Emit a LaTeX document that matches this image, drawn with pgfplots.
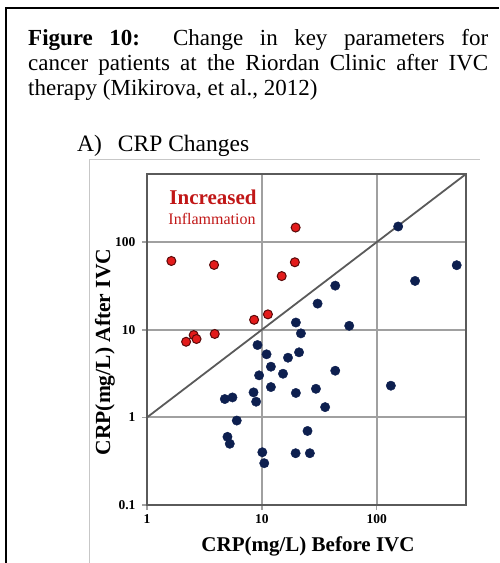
\documentclass[border=0pt]{standalone}
\usepackage{pgfplots}
\pgfplotsset{compat=1.18}
\usepackage{fontspec}
\setmainfont{Liberation Serif}
\definecolor{navy}{HTML}{0D1F4F}
\definecolor{redfill}{HTML}{E31B1B}
\definecolor{redline}{HTML}{5A0A0A}
\definecolor{gridgray}{HTML}{A0A0A0}
\definecolor{framegray}{HTML}{5A5A5A}
\begin{document}
\begin{tikzpicture}[x=1pt,y=1pt]
\useasboundingbox (0,0) rectangle (499,563);
% outer borders
\draw[black,line width=2pt] (6,0) -- (6,555) -- (499,555);
\draw[black!22,line width=1pt] (89,0) -- (89,403) -- (480,403);
% title
\node[anchor=base west,inner sep=0pt] at (28,517) {\fontsize{23}{25}\selectfont\makebox[460pt][s]{\textbf{Figure 10:}\ \ Change in key parameters for}};
\node[anchor=base west,inner sep=0pt] at (28,492) {\fontsize{23}{25}\selectfont\makebox[460pt][s]{cancer patients at the Riordan Clinic after IVC}};
\node[anchor=base west,inner sep=0pt] at (28,467) {\fontsize{23}{25}\selectfont therapy (Mikirova, et al., 2012)};
\node[anchor=base west,inner sep=0pt] at (77,411) {\fontsize{23.5}{25}\selectfont A)\hspace{16pt}CRP Changes};
\begin{axis}[
  at={(147pt,58pt)}, anchor=south west,
  scale only axis, width=319pt, height=331pt,
  xmode=log, ymode=log,
  xmin=1, xmax=600, ymin=0.1, ymax=600,
  xtick={1,10,100}, xticklabels={1,10,100},
  ytick={0.1,1,10,100}, yticklabels={0.1,1,10,100},
  xminorticks=false, yminorticks=false,
  grid=major,
  major grid style={gridgray,line width=2pt},
  axis line style={framegray,line width=1.6pt},
  tick align=outside, major tick length=5pt,
  tick style={gridgray,line width=1.5pt},
  xtick pos=bottom, ytick pos=left,
  /pgf/number format/assume math mode=true,
  ticklabel style={font=\fontsize{13.5}{13.5}\selectfont\bfseries},
  yticklabel style={xshift=-3pt},
  xticklabel style={yshift=-1pt},
  clip=false,
]
\addplot[framegray,line width=1.8pt] coordinates {(1,1) (600,600)};
\addplot[only marks,mark=*,mark size=4.7pt,navy,mark options={fill=navy,draw=navy}] coordinates {
(154,151) (498,54.6) (216,36.1) (43.6,31.9) (30.6,19.9) (57.7,11.1) (19.8,12.1) (21.9,9.1)
(9.17,6.7) (11.0,5.25) (16.9,4.8) (21.1,5.53) (12.0,3.79) (15.3,3.15) (9.47,3.02) (43.6,3.41)
(12.0,2.22) (29.6,2.12) (133,2.30) (19.8,1.90) (8.47,1.93) (8.92,1.51) (4.76,1.62) (5.55,1.69)
(35.6,1.31) (6.05,0.92) (25.0,0.70) (5.02,0.60) (5.26,0.50) (10.1,0.40) (10.5,0.30) (19.7,0.39) (26.2,0.39)
};
\addplot[only marks,mark=*,mark size=4.5pt,mark options={fill=redfill,draw=redline,line width=1pt}] coordinates {
(1.63,61) (3.84,55) (19.7,147) (19.4,59) (14.9,41) (8.57,13.0) (11.3,15.0) (2.19,7.3) (2.55,8.7) (2.70,7.85) (3.89,8.96)
};
\end{axis}
% annotations
\node[anchor=base,inner sep=0pt,text=redfill!85!black] at (213,358) {\fontsize{21}{21}\selectfont\bfseries Increased};
\node[anchor=base,inner sep=0pt,text=redfill!85!black] at (212,338) {\fontsize{16}{16}\selectfont Inflammation};
% axis labels
\node[anchor=base,inner sep=0pt] at (308,11) {\fontsize{21}{21}\selectfont\bfseries CRP(mg/L) Before IVC};
\node[anchor=base,inner sep=0pt,rotate=90] at (110,211) {\fontsize{21.5}{21}\selectfont\bfseries CRP(mg/L) After IVC};
\end{tikzpicture}
\end{document}
